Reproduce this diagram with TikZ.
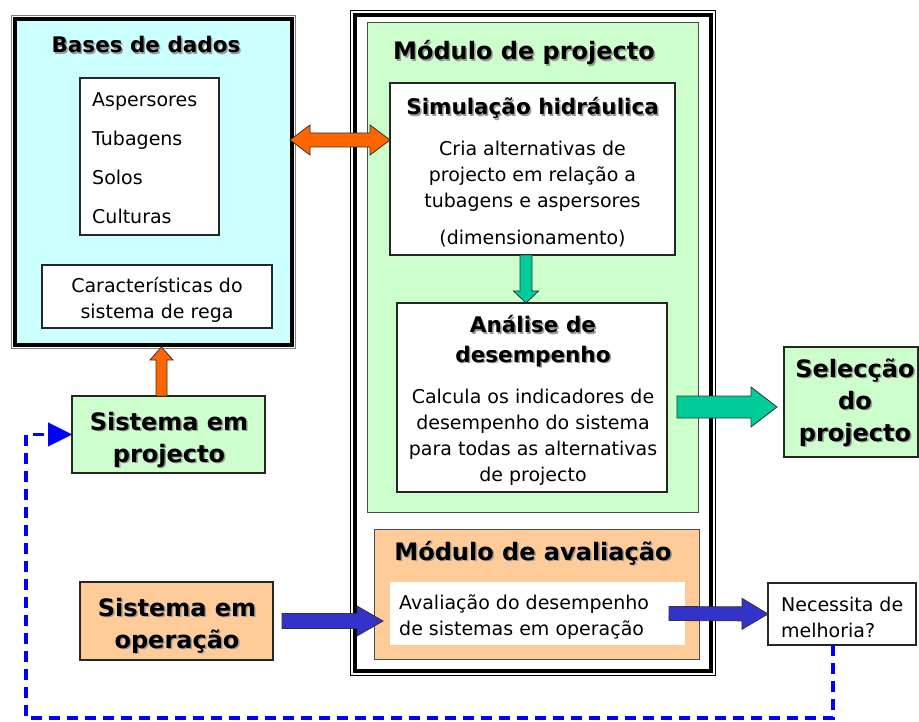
\documentclass[tikz,border=0pt]{standalone}
\usepackage{fontspec}
\setmainfont{DejaVu Sans}
\usepackage{tikz}
\usetikzlibrary{calc,arrows.meta}
\usepackage{xcolor}
\definecolor{cyanbg}{HTML}{CCFFFF}
\definecolor{greenbg}{HTML}{CCFFCC}
\definecolor{peachbg}{HTML}{FFCC99}
\definecolor{orangearr}{HTML}{FF6600}
\definecolor{tealarr}{HTML}{00CC99}
\definecolor{bluearr}{HTML}{3333CC}
\definecolor{dashblue}{HTML}{0000FF}

% bold text with a grey shadow
\newcommand\shd[1]{\leavevmode\rlap{\kern1.5pt\raisebox{-1.5pt}{\textcolor{black!40}{#1}}}#1}

% block arrow: style, from, to, shaft half width, head half width, head length
\newcommand\fatarrow[6]{%
  \coordinate (fa-s) at (#2); \coordinate (fa-e) at (#3);
  \coordinate (fa-h) at ($(fa-e)!#6!(fa-s)$);
  \filldraw[#1] ($(fa-s)!#4!90:(fa-e)$) -- ($(fa-h)!#4!90:(fa-e)$) -- ($(fa-h)!#5!90:(fa-e)$) -- (fa-e)
    -- ($(fa-h)!#5!-90:(fa-e)$) -- ($(fa-h)!#4!-90:(fa-e)$) -- ($(fa-s)!#4!-90:(fa-e)$) -- cycle;}
% same, with a head at both ends
\newcommand\fatarrowboth[6]{%
  \coordinate (fb-s) at (#2); \coordinate (fb-e) at (#3);
  \coordinate (fb-h) at ($(fb-e)!#6!(fb-s)$);
  \coordinate (fb-g) at ($(fb-s)!#6!(fb-e)$);
  \filldraw[#1] (fb-s) -- ($(fb-g)!#5!-90:(fb-e)$) -- ($(fb-g)!#4!-90:(fb-e)$) -- ($(fb-h)!#4!-90:(fb-e)$)
    -- ($(fb-h)!#5!-90:(fb-e)$) -- (fb-e) -- ($(fb-h)!#5!90:(fb-e)$) -- ($(fb-h)!#4!90:(fb-e)$)
    -- ($(fb-g)!#4!90:(fb-e)$) -- ($(fb-g)!#5!90:(fb-e)$) -- cycle;}

\begin{document}
\begin{tikzpicture}[x=1pt, y=-1pt,
  dbox/.style={draw=black, line width=4pt, outer sep=0pt, inner sep=0pt},
  box/.style={draw=black!85, line width=1.3pt, outer sep=0pt, inner sep=0pt},
  bigtitle/.style={font=\fontsize{24}{32}\selectfont\bfseries, align=center, inner sep=0pt},
  subtitle/.style={font=\fontsize{21.5}{29}\selectfont\bfseries, align=center, inner sep=0pt},
  txt/.style={font=\fontsize{19}{26}\selectfont, inner sep=0pt},
  fatarr/.style={draw=black!80, line width=0.8pt, line join=miter},
  feedback/.style={draw=dashblue, line width=3.5pt, dash pattern=on 11pt off 7pt,
    -{Triangle[length=24pt,width=24pt,line width=0.1pt]}},
]
\useasboundingbox (0,0) rectangle (919,722);

% boxes
\node[dbox, fill=cyanbg, minimum width=277pt, minimum height=326pt] (bd) at (153.5,182) {};
\draw[gray, line width=1pt] ($(bd.north west)+(-3.5,-3.5)$) rectangle ($(bd.south east)+(3.5,3.5)$);
\node[box, fill=white, line width=2pt, minimum width=139pt, minimum height=157pt] (lst) at (149.5,156.5) {};
\node[box, fill=white, minimum width=230pt, minimum height=63pt] (car) at (157,296.5) {};

\node[dbox, fill=white, minimum width=356pt, minimum height=656pt] (frm) at (533,343) {};
\draw[black, line width=1pt] ($(frm.north west)+(-4.5,-4.5)$) rectangle ($(frm.south east)+(4.5,4.5)$);
\node[box, draw=black!70, fill=greenbg, line width=1pt, minimum width=331pt, minimum height=489pt] (mp) at (532.5,267.5) {};
\node[box, fill=white, minimum width=285pt, minimum height=172pt] (sim) at (532.5,169) {};
\node[box, fill=white, minimum width=270pt, minimum height=189pt] (anl) at (532,397.5) {};
\node[box, draw=black!70, fill=peachbg, line width=1pt, minimum width=325pt, minimum height=130pt] (ma) at (536.5,594) {};
\node[fill=white, outer sep=0pt, inner sep=0pt, minimum width=295pt, minimum height=63pt] (avt) at (537.5,613.5) {};

\node[box, fill=greenbg, minimum width=134pt, minimum height=110pt] (sel) at (851,402) {};
\node[box, fill=greenbg, minimum width=193pt, minimum height=77pt] (sp) at (168.5,434.5) {};
\node[box, fill=peachbg, minimum width=193pt, minimum height=78pt] (so) at (176.5,621) {};
\node[box, fill=white, minimum width=148pt, minimum height=62pt] (nec) at (842,614) {};

% texts (multi-line: y is the baseline of the last line)
\node[subtitle, anchor=base] (bdt) at (146,53) {\shd{Bases de dados}};
\foreach \lbl/\yy in {Aspersores/107, Tubagens/146, Solos/185, Culturas/224}
  \node[txt, anchor=base west] (db-\lbl) at (92,\yy) {\lbl};
\node[txt, align=center, anchor=base] (cart) at (157,319) {Características do\\sistema de rega};

\node[bigtitle, anchor=base] (mpt) at (524,60) {\shd{Módulo de projecto}};
\node[subtitle, anchor=base] (simt) at (532.5,115) {\shd{Simulação hidráulica}};
\node[txt, align=center, anchor=base] (simd) at (532.5,208) {Cria alternativas de\\projecto em relação a\\tubagens e aspersores};
\node[txt, anchor=base] (simx) at (532.5,245) {(dimensionamento)};
\node[subtitle, anchor=base] (anlt) at (533,362) {\shd{Análise de}\\\shd{desempenho}};
\node[txt, align=center, anchor=base] (anld) at (533,481) {Calcula os indicadores de\\desempenho do sistema\\para todas as alternativas\\de projecto};

\node[bigtitle, anchor=base] (mat) at (533,560) {\shd{Módulo de avaliação}};
\node[txt, align=left, anchor=base west] (avd) at (399,635) {Avaliação do desempenho\\de sistemas em operação};

\node[bigtitle, anchor=base] (selt) at (855,441) {\shd{Selecção}\\\shd{do}\\\shd{projecto}};
\node[bigtitle, anchor=base] (spt) at (169,462) {\shd{Sistema em}\\\shd{projecto}};
\node[bigtitle, anchor=base] (sot) at (177,648) {\shd{Sistema em}\\\shd{operação}};
\node[txt, align=left, anchor=base west] (necd) at (781,637) {Necessita de\\melhoria?};

% arrows
\coordinate (dbin) at (290,140);
\coordinate (dbout) at ($(dbin -| sim.west)$);
\coordinate (spup) at ([xshift=-7pt]sp.north);
\coordinate (simdn) at ([xshift=-6.5pt]sim.south);
\coordinate (soout) at ([xshift=9pt]so.east);
\coordinate (avin) at ([xshift=-7pt]avt.west);
\fatarrowboth{fatarr, fill=orangearr}{dbin}{dbout}{7pt}{15pt}{20pt}
\fatarrow{fatarr, fill=orangearr}{spup}{$(spup |- bd.south)+(0,2)$}{5.5pt}{11.5pt}{13pt}
\fatarrow{fatarr, fill=tealarr}{simdn}{simdn |- anl.north}{6pt}{12.5pt}{12pt}
\fatarrow{fatarr, fill=tealarr}{$(anl.east)+(10,9.5)$}{$(sel.west)+(-7,5)$}{11pt}{20pt}{26pt}
\fatarrow{fatarr, fill=bluearr}{soout}{soout -| avin}{7.5pt}{15pt}{26pt}
\fatarrow{fatarr, fill=bluearr}{[xshift=-16pt]avt.east}{nec.west}{7pt}{15.5pt}{26pt}

\coordinate (fb) at (26,718);
\draw[feedback] ([xshift=-9pt]nec.south) |- (fb) |- (sp.west);

\end{tikzpicture}
\end{document}
